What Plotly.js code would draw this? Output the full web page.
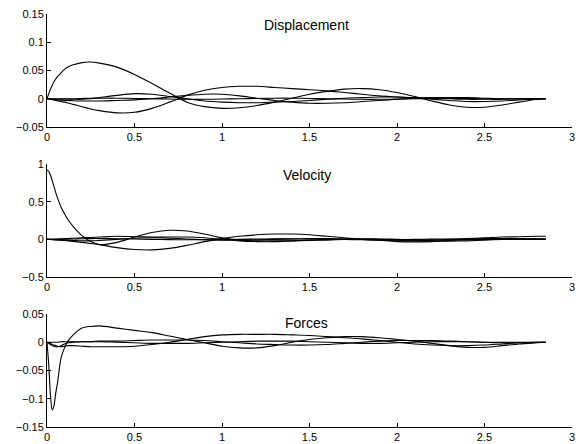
<!DOCTYPE html>
<html>
<head>
<meta charset="utf-8">
<script src="https://cdn.plot.ly/plotly-3.0.1.min.js"></script>
<style>
  html, body { margin: 0; padding: 0; background: #fff; }
  #chart { width: 585px; height: 444px; }
</style>
</head>
<body>
<div id="chart"></div>
<script>
// Time samples (s), finer near the start where the transients are sharp
const t = [0, 0.01, 0.02, 0.03, 0.04, 0.05, 0.06, 0.08, 0.1, 0.12, 0.15, 0.2, 0.25, 0.3,
  0.4, 0.5, 0.6, 0.7, 0.8, 0.9, 1.0, 1.1, 1.2, 1.3, 1.4, 1.5, 1.6, 1.7, 1.8, 1.9,
  2.0, 2.1, 2.2, 2.3, 2.4, 2.5, 2.6, 2.7, 2.8, 2.85];

// Displacement responses
const dispA = [0, .009, .017, .024, .030, .035, .039, .046, .052, .056, .060, .064, .065, .063,
  .056, .043, .027, .010, -.006, -.014, -.017, -.016, -.012, -.006, .001, .008, .013, .017, .018, .016,
  .011, .004, -.004, -.011, -.015, -.015, -.011, -.006, -.001, 0];
const dispB = [0, -.0005, -.001, -.0015, -.002, -.003, -.0035, -.005, -.006, -.0075, -.01, -.014, -.018, -.021,
  -.025, -.024, -.017, -.006, .006, .015, .020, .022, .022, .020, .018, .016, .014, .011, .008, .005,
  .003, .001, -.001, -.003, -.005, -.005, -.004, -.002, -.001, 0];
const dispC = [0, 0, -.0005, -.0005, -.001, -.001, -.001, -.001, -.001, -.001, -.001, -.001, 0, .002,
  .006, .009, .008, .004, 0, -.004, -.006, -.007, -.007, -.006, -.005, -.003, -.001, .001, .002, .003,
  .003, .002, .001, 0, -.001, -.001, -.001, 0, 0, 0];
const dispD = [0, 0, -.0005, -.001, -.0015, -.002, -.002, -.0025, -.003, -.003, -.0035, -.004, -.004, -.004,
  -.003, -.002, 0, .003, .006, .008, .008, .005, .001, -.003, -.006, -.008, -.008, -.007, -.005, -.003,
  -.001, .001, .002, .002, .002, .001, 0, 0, 0, 0];
const dispE = [0, 0, 0, 0, 0, 0, 0, 0, 0, 0, 0, .0005, .001, .001,
  .001, .0005, 0, -.0005, -.001, -.001, -.0005, 0, .0005, .001, .001, .0005, 0, -.0005, -.001, -.001,
  -.0005, 0, .0005, .0005, .0005, 0, 0, 0, 0, 0];

// Velocity responses
const velA = [0.92, 0.9, 0.85, 0.78, 0.7, 0.62, 0.55, 0.43, 0.34, 0.26, 0.17, 0.05, -0.03, -0.07,
  -0.04, 0.03, 0.09, 0.12, 0.11, 0.07, 0.02, -0.01, -0.02, -0.02, -0.02, -0.015, -0.01, 0, 0.005, 0.005,
  0, -0.005, -0.01, -0.01, -0.005, 0, 0.005, 0.005, 0.005, 0.005];
const velB = [0, -0.001, -0.002, -0.004, -0.006, -0.008, -0.01, -0.013, -0.016, -0.02, -0.027, -0.04, -0.055, -0.07,
  -0.11, -0.135, -0.14, -0.12, -0.08, -0.03, 0.01, 0.04, 0.06, 0.07, 0.07, 0.06, 0.04, 0.02, 0, -0.01,
  -0.02, -0.02, -0.01, 0, 0.01, 0.02, 0.03, 0.035, 0.04, 0.04];
const velC = [0, 0, 0.001, 0.002, 0.003, 0.004, 0.005, 0.007, 0.009, 0.011, 0.014, 0.02, 0.025, 0.03,
  0.04, 0.035, 0.03, 0.03, 0.03, 0.02, 0, -0.02, -0.03, -0.03, -0.02, -0.01, 0, 0.005, 0.005, 0,
  -0.01, -0.02, -0.025, -0.025, -0.02, -0.01, 0, 0.005, 0.005, 0.005];
const velD = [0, -0.001, -0.002, -0.003, -0.004, -0.005, -0.006, -0.008, -0.01, -0.012, -0.015, -0.02, -0.02, -0.015,
  0, 0.015, 0.02, 0.015, 0.005, -0.005, -0.01, -0.01, -0.005, 0, 0.005, 0.01, 0.01, 0.005, 0, -0.01,
  -0.03, -0.035, -0.03, -0.015, 0, 0.01, 0.01, 0.01, 0.005, 0];
const velE = [0, 0, 0, 0, 0, 0, 0, 0, 0.002, 0.003, 0.005, 0.008, 0.01, 0.01,
  0.008, 0.004, 0, -0.004, -0.006, -0.006, -0.004, 0, 0.004, 0.006, 0.006, 0.004, 0, -0.003, -0.005, -0.005,
  -0.003, 0, 0.003, 0.004, 0.003, 0, 0, 0, 0, 0];

// Force responses
const forceA = [0, -0.04, -0.095, -0.12, -0.112, -0.09, -0.072, -0.028, -0.01, 0.002, 0.013, 0.025, 0.028, 0.029,
  0.025, 0.021, 0.017, 0.011, 0.005, -0.001, -0.007, -0.01, -0.01, -0.006, 0, 0.005, 0.008, 0.01, 0.01, 0.008,
  0.005, 0.002, -0.002, -0.006, -0.009, -0.009, -0.006, -0.003, -0.001, 0];
const forceB = [0, -0.001, -0.002, -0.004, -0.005, -0.006, -0.007, -0.008, -0.007, -0.006, -0.006, -0.007, -0.008, -0.008,
  -0.008, -0.007, -0.004, 0, 0.005, 0.01, 0.013, 0.014, 0.014, 0.014, 0.013, 0.012, 0.01, 0.008, 0.006, 0.003,
  0, -0.003, -0.005, -0.006, -0.006, -0.005, -0.003, -0.001, 0, 0];
const forceC = [0, -0.002, -0.004, -0.006, -0.007, -0.008, -0.008, -0.006, -0.003, -0.001, 0, 0.001, 0.001, 0.002,
  0.002, 0.003, 0.004, 0.004, 0.004, 0.003, 0.001, -0.001, -0.003, -0.004, -0.005, -0.005, -0.004, -0.002, 0, 0.002,
  0.003, 0.003, 0.003, 0.002, 0.001, 0, -0.001, -0.001, 0, 0];
const forceD = [0, 0, 0, 0, 0, 0, 0, 0.001, 0.001, 0.001, 0.001, 0.001, 0.001, 0.001,
  0, -0.001, -0.002, -0.002, -0.002, -0.001, 0, 0.001, 0.002, 0.002, 0.002, 0.001, 0, -0.001, -0.002, -0.002,
  -0.001, 0, 0.001, 0.001, 0.001, 0, 0, 0, 0, 0];

const panels = [
  { title: "Displacement", series: [dispA, dispB, dispC, dispD, dispE], xa: "x", ya: "y" },
  { title: "Velocity", series: [velA, velB, velC, velD, velE], xa: "x2", ya: "y2" },
  { title: "Forces", series: [forceA, forceB, forceC, forceD], xa: "x3", ya: "y3" }
];

const traces = [];
panels.forEach(p => {
  p.series.forEach(s => {
    traces.push({
      x: t, y: s, xaxis: p.xa, yaxis: p.ya,
      type: "scatter", mode: "lines",
      line: { color: "#000", width: 1.1, shape: "spline", smoothing: 0.8 },
      hoverinfo: "skip", showlegend: false
    });
  });
});

const font = { family: "Liberation Sans, Arial, Helvetica, sans-serif", size: 11, color: "#000" };

function xAxis(anchor) {
  return {
    anchor: anchor, domain: [0, 1], range: [0, 3], tick0: 0, dtick: 0.5,
    showline: true, linecolor: "#000", linewidth: 1, mirror: false,
    ticks: "inside", ticklen: 4, tickcolor: "#000", tickwidth: 1,
    showgrid: false, zeroline: false, tickfont: font, fixedrange: true
  };
}
function yAxis(anchor, domain, range, dtick) {
  return {
    anchor: anchor, domain: domain, range: range, tick0: 0, dtick: dtick,
    showline: true, linecolor: "#000", linewidth: 1, mirror: false,
    ticks: "inside", ticklen: 4, tickcolor: "#000", tickwidth: 1,
    showgrid: false, zeroline: false, tickfont: font, fixedrange: true
  };
}

const titleFont = { family: font.family, size: 14, color: "#000" };

const layout = {
  width: 585, height: 444,
  margin: { l: 47, r: 13, t: 14, b: 17 },
  paper_bgcolor: "#fff", plot_bgcolor: "#fff",
  showlegend: false,
  xaxis: xAxis("y"),
  yaxis: yAxis("x", [0.7264, 1], [-0.05, 0.15], 0.05),
  xaxis2: xAxis("y2"),
  yaxis2: yAxis("x2", [0.3632, 0.6368], [-0.5, 1], 0.5),
  xaxis3: xAxis("y3"),
  yaxis3: yAxis("x3", [0, 0.2736], [-0.15, 0.05], 0.05),
  annotations: [
    { text: panels[0].title, x: 1.48, y: 0.13, xref: "x", yref: "y", showarrow: false, font: titleFont },
    { text: panels[1].title, x: 1.485, y: 0.855, xref: "x2", yref: "y2", showarrow: false, font: titleFont },
    { text: panels[2].title, x: 1.48, y: 0.034, xref: "x3", yref: "y3", showarrow: false, font: titleFont }
  ]
};

Plotly.newPlot("chart", traces, layout, { displayModeBar: false, staticPlot: true });
</script>
</body>
</html>
